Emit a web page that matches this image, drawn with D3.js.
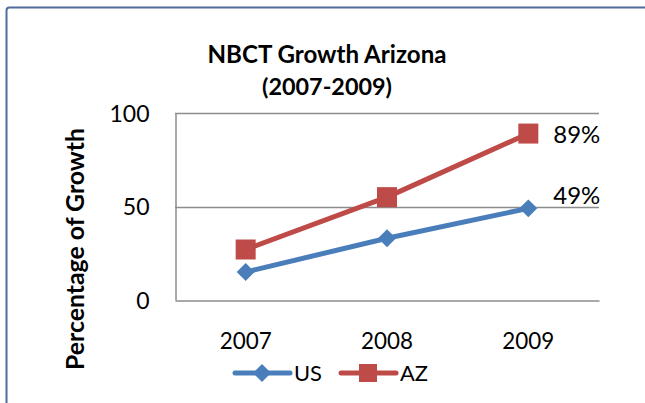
<!DOCTYPE html>
<html>
<head>
<meta charset="UTF-8">
<title>NBCT Growth Arizona</title>
<script src="https://d3js.org/d3.v7.min.js"></script>
<style>
  body { margin: 0; background: #fff; }
  text { font-family: Lato, "Open Sans", sans-serif; fill: #000; }
</style>
</head>
<body>
<svg width="645" height="403"></svg>
<script>
// chart data
var years = ["2007", "2008", "2009"];
var usValues = [15, 33, 49];
var azValues = [27, 55, 89];
var yTicks = [0, 50, 100];
var seriesNames = ["US", "AZ"];
var endLabels = ["49%", "89%"];

var svg = d3.select("svg");

// scale a text's font so it spans about the width seen in the original (Calibri)
function fitWidth(sel, target) {
  sel.each(function() {
    var size = parseFloat(d3.select(this).style("font-size"));
    var w = this.getComputedTextLength();
    if (w > 0) d3.select(this).style("font-size", (size * target / w).toFixed(2) + "px");
  });
}

// outer chart frame (right and bottom edges run off the picture)
svg.append("rect")
  .attr("x", 6.5).attr("y", 7.5)
  .attr("width", 660).attr("height", 420)
  .attr("rx", 3)
  .style("fill", "white")
  .style("stroke", "#4f6d9c")
  .style("stroke-width", 2);

var plot = {left: 175, top: 113, right: 599, bottom: 300};

var xScale = d3.scaleBand()
  .domain(years)
  .range([plot.left, plot.right]);

var yScale = d3.scaleLinear()
  .domain([0, 100])
  .range([plot.bottom, plot.top]);

function cx(d, i) { return xScale(years[i]) + xScale.bandwidth() / 2; }

// grid lines
svg.append("g")
  .selectAll("line").data(yTicks.filter(function(t) { return t > 0; }))
  .enter().append("line")
  .attr("x1", plot.left).attr("x2", plot.right)
  .attr("y1", function(d) { return Math.round(yScale(d)) + 0.5; })
  .attr("y2", function(d) { return Math.round(yScale(d)) + 0.5; })
  .style("stroke", "#8c8c8c").style("stroke-width", 1.5);

// y axis
var yAxis = d3.axisLeft(yScale).tickValues(yTicks).tickSize(0).tickPadding(26);
var gy = svg.append("g")
  .attr("transform", "translate(" + (plot.left + 0.5) + ",0)")
  .call(yAxis);
gy.select(".domain").style("stroke", "#8c8c8c").style("stroke-width", 1.5);
gy.selectAll("text")
  .style("font-size", "23px")
  .attr("dy", "0.35em");

// x axis
var xAxis = d3.axisBottom(xScale).tickSize(0).tickPadding(33);
var gx = svg.append("g")
  .attr("transform", "translate(0," + (plot.bottom + 0.5) + ")")
  .call(xAxis);
gx.select(".domain").style("stroke", "#8c8c8c").style("stroke-width", 1.5);
gx.selectAll("text").style("font-size", "23px");
fitWidth(gx.selectAll("text"), 52);

// series lines
var line = d3.line()
  .x(cx)
  .y(function(d) { return yScale(d); });

svg.append("path").datum(usValues)
  .attr("d", line)
  .style("fill", "none").style("stroke", "#4a7ebb").style("stroke-width", 5)
  .style("stroke-linejoin", "round");

svg.append("path").datum(azValues)
  .attr("d", line)
  .style("fill", "none").style("stroke", "#be4b48").style("stroke-width", 5)
  .style("stroke-linejoin", "round");

// markers
var diamond = d3.symbol().type(d3.symbolDiamond2).size(206);
svg.append("g").selectAll("path").data(usValues)
  .enter().append("path")
  .attr("d", diamond)
  .attr("transform", function(d, i) { return "translate(" + cx(d, i) + "," + yScale(d) + ")"; })
  .style("fill", "#4a7ebb");

svg.append("g").selectAll("rect").data(azValues)
  .enter().append("rect")
  .attr("x", function(d, i) { return cx(d, i) - 10; })
  .attr("y", function(d) { return yScale(d) - 10; })
  .attr("width", 20).attr("height", 20)
  .style("fill", "#be4b48");

// end labels
var lastX = cx(null, years.length - 1);
var l49 = svg.append("text")
  .attr("x", lastX + 25).attr("y", yScale(usValues[2]) - 4)
  .text(endLabels[0]).style("font-size", "22px");
var l89 = svg.append("text")
  .attr("x", lastX + 25).attr("y", yScale(azValues[2]) + 9)
  .text(endLabels[1]).style("font-size", "22px");
fitWidth(l49, 47);
fitWidth(l89, 47);

// title
var t1 = svg.append("text")
  .attr("x", 327).attr("y", 63)
  .attr("text-anchor", "middle")
  .style("font-size", "22px").style("font-weight", "bold")
  .text("NBCT Growth Arizona");
var t2 = svg.append("text")
  .attr("x", 327).attr("y", 95)
  .attr("text-anchor", "middle")
  .style("font-size", "22px").style("font-weight", "bold")
  .text("(2007-2009)");
fitWidth(t1, 239);
fitWidth(t2, 130);

// y axis title
var yt = svg.append("text")
  .attr("transform", "translate(84,249) rotate(-90)")
  .attr("text-anchor", "middle")
  .style("font-size", "22px").style("font-weight", "bold")
  .text("Percentage of Growth");
fitWidth(yt, 242);

// legend
var lg = svg.append("g").attr("transform", "translate(0,373)");
lg.append("line").attr("x1", 235).attr("x2", 290)
  .style("stroke", "#4a7ebb").style("stroke-width", 5).style("stroke-linecap", "round");
lg.append("path").attr("d", diamond)
  .attr("transform", "translate(262,0)")
  .style("fill", "#4a7ebb");
var lus = lg.append("text").attr("x", 294).attr("y", 8)
  .style("font-size", "22px").text(seriesNames[0]);

lg.append("line").attr("x1", 341).attr("x2", 396)
  .style("stroke", "#be4b48").style("stroke-width", 5).style("stroke-linecap", "round");
lg.append("rect").attr("x", 359).attr("y", -9).attr("width", 18).attr("height", 18)
  .style("fill", "#be4b48");
var laz = lg.append("text").attr("x", 400).attr("y", 8)
  .style("font-size", "22px").text(seriesNames[1]);
fitWidth(lus, 28);
fitWidth(laz, 28);
</script>
</body>
</html>
